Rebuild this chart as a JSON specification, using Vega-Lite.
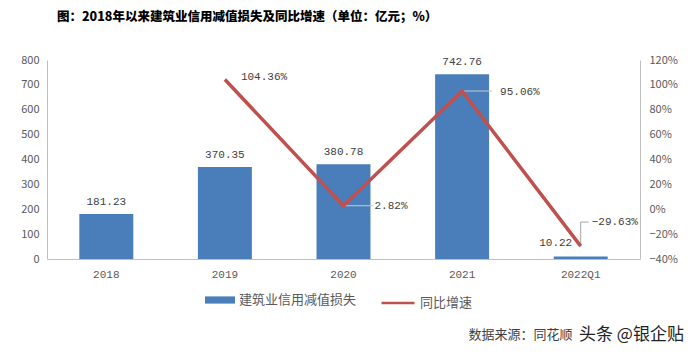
{
  "$schema": "https://vega.github.io/schema/vega-lite/v6.json",
  "width": 593,
  "height": 199,
  "autosize": {"type": "none"},
  "padding": {"left": 47, "top": 60, "right": 57, "bottom": 96},
  "background": "#ffffff",
  "title": {
    "text": "图：2018年以来建筑业信用减值损失及同比增速（单位：亿元；%）",
    "anchor": "start",
    "frame": "group",
    "dx": 10,
    "offset": 31,
    "fontSize": 12.5,
    "font": "Noto Sans CJK SC",
    "fontWeight": 900,
    "color": "#000000"
  },
  "config": {
    "view": {"stroke": null},
    "font": "Noto Sans CJK SC"
  },
  "data": {
    "values": [
      {"year": "2018", "loss": 181.23, "growth": null},
      {"year": "2019", "loss": 370.35, "growth": 1.0436},
      {"year": "2020", "loss": 380.78, "growth": 0.0282},
      {"year": "2021", "loss": 742.76, "growth": 0.9506},
      {"year": "2022Q1", "loss": 10.22, "growth": -0.2963}
    ]
  },
  "encoding": {
    "x": {
      "field": "year",
      "type": "nominal",
      "sort": null,
      "scale": {"paddingInner": 0.545, "paddingOuter": 0.2725},
      "axis": {
        "labelAngle": 0,
        "ticks": false,
        "domainColor": "#bfbfbf",
        "labelColor": "#595959",
        "labelFont": "Liberation Mono",
        "labelFontSize": 11,
        "labelPadding": 9,
        "title": "数据来源：同花顺",
        "titleX": 421,
        "titleY": 75,
        "titleAlign": "left",
        "titleBaseline": "middle",
        "titleFontSize": 13,
        "titleFontWeight": "normal",
        "titleColor": "#404040"
      }
    }
  },
  "layer": [
    {
      "encoding": {
        "y": {
          "field": "loss",
          "type": "quantitative",
          "scale": {"domain": [0, 800], "nice": false},
          "axis": {
            "values": [0, 100, 200, 300, 400, 500, 600, 700, 800],
            "grid": false,
            "ticks": false,
            "domainColor": "#bfbfbf",
            "labelColor": "#595959",
            "labelFontSize": 11,
            "labelPadding": 8,
            "title": "头条 @银企贴",
            "titleAngle": 0,
            "titleX": 584,
            "titleY": 274,
            "titleAlign": "center",
            "titleBaseline": "middle",
            "titleFontSize": 17,
            "titleFontWeight": "normal",
            "titleColor": "#222222"
          }
        }
      },
      "layer": [
        {
          "mark": {"type": "bar"},
          "encoding": {
            "fill": {
              "datum": "建筑业信用减值损失",
              "type": "nominal",
              "scale": {"range": ["#4A7EBB"]},
              "legend": {
                "orient": "none",
                "legendX": 158,
                "legendY": 225,
                "direction": "horizontal",
                "title": null,
                "padding": 0,
                "symbolType": "M-1,-0.24L1,-0.24L1,0.24L-1,0.24Z",
                "symbolSize": 900,
                "symbolStrokeWidth": 0,
                "labelFontSize": 13,
                "labelColor": "#595959"
              }
            }
          }
        },
        {
          "transform": [{"filter": "datum.year !== '2022Q1'"}],
          "mark": {"type": "text", "baseline": "bottom", "dy": -7, "font": "Liberation Mono", "fontSize": 11, "color": "#404040"},
          "encoding": {"text": {"field": "loss", "type": "quantitative", "format": ".2f"}}
        },
        {
          "transform": [{"filter": "datum.year === '2022Q1'"}],
          "mark": {"type": "text", "baseline": "bottom", "dy": -8, "dx": -25, "font": "Liberation Mono", "fontSize": 11, "color": "#404040"},
          "encoding": {"text": {"field": "loss", "type": "quantitative", "format": ".2f"}}
        }
      ]
    },
    {
      "encoding": {
        "y": {
          "field": "growth",
          "type": "quantitative",
          "scale": {"domain": [-0.4, 1.2], "nice": false},
          "axis": {
            "orient": "right",
            "values": [-0.4, -0.2, 0, 0.2, 0.4, 0.6, 0.8, 1.0, 1.2],
            "format": ".0%",
            "grid": false,
            "ticks": false,
            "domainColor": "#bfbfbf",
            "labelColor": "#595959",
            "labelFontSize": 11,
            "labelPadding": 9,
            "title": null
          }
        }
      },
      "layer": [
        {
          "transform": [{"filter": "datum.year === '2020' || datum.year === '2021'"}],
          "mark": {"type": "rule", "color": "#c8c8c8", "strokeWidth": 1, "x2Offset": 30},
          "encoding": {"x2": {"field": "year"}}
        },
        {
          "transform": [{"filter": "datum.year === '2022Q1'"}],
          "mark": {"type": "rule", "color": "#a6a6a6", "strokeWidth": 1, "y2Offset": -24},
          "encoding": {"y2": {"field": "growth"}}
        },
        {
          "transform": [{"filter": "datum.year === '2022Q1'"}],
          "mark": {"type": "rule", "color": "#a6a6a6", "strokeWidth": 1, "yOffset": -24, "x2Offset": 8},
          "encoding": {"x2": {"field": "year"}}
        },
        {
          "mark": {"type": "line", "strokeWidth": 3.5},
          "encoding": {
            "stroke": {
              "datum": "同比增速",
              "type": "nominal",
              "scale": {"range": ["#C0504D"]},
              "legend": {
                "orient": "none",
                "legendX": 333,
                "legendY": 225,
                "direction": "horizontal",
                "title": null,
                "padding": 0,
                "symbolType": "stroke",
                "symbolSize": 1089,
                "symbolStrokeWidth": 2.5,
                "labelFontSize": 13,
                "labelColor": "#595959"
              }
            }
          }
        },
        {
          "transform": [{"filter": "datum.year === '2019'"}],
          "mark": {"type": "text", "align": "left", "baseline": "middle", "dx": 16, "dy": -2, "font": "Liberation Mono", "fontSize": 11, "color": "#404040"},
          "encoding": {"text": {"field": "growth", "type": "quantitative", "format": ".2%"}}
        },
        {
          "transform": [{"filter": "datum.year === '2020'"}],
          "mark": {"type": "text", "align": "left", "baseline": "middle", "dx": 31, "dy": 0, "font": "Liberation Mono", "fontSize": 11, "color": "#404040"},
          "encoding": {"text": {"field": "growth", "type": "quantitative", "format": ".2%"}}
        },
        {
          "transform": [{"filter": "datum.year === '2021'"}],
          "mark": {"type": "text", "align": "left", "baseline": "middle", "dx": 38, "dy": 1, "font": "Liberation Mono", "fontSize": 11, "color": "#404040"},
          "encoding": {"text": {"field": "growth", "type": "quantitative", "format": ".2%"}}
        },
        {
          "transform": [{"filter": "datum.year === '2022Q1'"}],
          "mark": {"type": "text", "align": "left", "baseline": "middle", "dx": 11, "dy": -24, "font": "Liberation Mono", "fontSize": 11, "color": "#404040"},
          "encoding": {"text": {"field": "growth", "type": "quantitative", "format": ".2%"}}
        }
      ]
    }
  ],
  "resolve": {"scale": {"y": "independent"}}
}
